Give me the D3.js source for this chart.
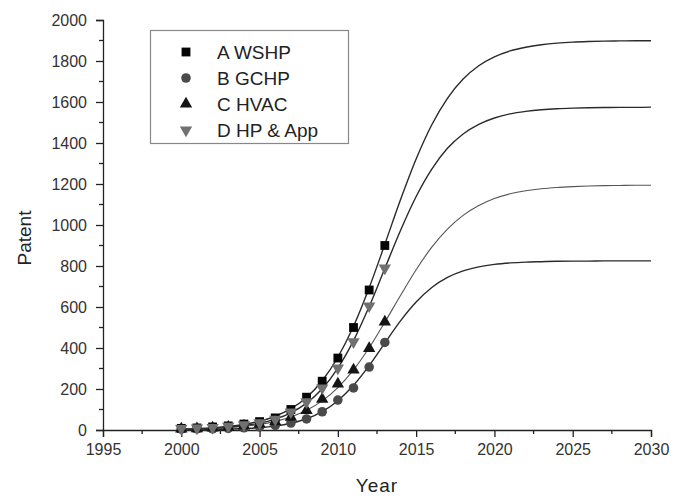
<!DOCTYPE html>
<html lang="en">
<head>
  <meta charset="UTF-8">
  <title>Patent growth</title>
  <script src="https://d3js.org/d3.v7.min.js"></script>
  <style>
    body { margin: 0; background: #fff; }
    svg { display: block; font-family: "Liberation Sans", Arial, sans-serif; }
    .tick text { fill: #333; font-size: 16px; }
    .axis path, .axis line { stroke: #222; stroke-width: 1.3; }
  </style>
</head>
<body>
  <svg width="682" height="496"></svg>
  <script>
    // observed patent counts (markers), 2000-2013
    const obsYears = d3.range(2000, 2014);
    const obsA = [8, 10, 15, 20, 29, 41, 59, 100, 160, 238, 351, 500, 683, 900];
    const obsB = [4, 5, 6, 8, 11, 15, 22, 34, 54, 89, 146, 205, 307, 427];
    const obsC = [5, 7, 10, 14, 20, 28, 40, 63, 96, 150, 225, 293, 398, 527];
    const obsD = [7, 9, 12, 18, 25, 35, 52, 88, 137, 205, 302, 430, 605, 790];

    // fitted curves, 2000-2030
    const fitYears = d3.range(2000, 2031);
    const fitA = [4, 7, 11, 17, 27, 43, 67, 104, 159, 240, 355, 506, 694, 906, 1123, 1322,
                  1489, 1618, 1712, 1777, 1820, 1849, 1867, 1879, 1887, 1892, 1895, 1897, 1898, 1899, 1899];
    const fitB = [1, 1, 2, 4, 7, 11, 19, 33, 55, 90, 143, 218, 314, 424, 532, 624,
                  695, 744, 776, 796, 808, 815, 819, 821, 823, 824, 824, 825, 825, 825, 825];
    const fitC = [3, 5, 7, 11, 18, 27, 42, 63, 96, 142, 207, 293, 401, 526, 656, 782,
                  892, 980, 1047, 1095, 1129, 1152, 1167, 1177, 1183, 1187, 1190, 1192, 1193, 1194, 1194];
    const fitD = [3, 5, 8, 13, 21, 33, 53, 84, 131, 201, 302, 436, 602, 788, 973, 1139,
                  1273, 1374, 1444, 1491, 1522, 1542, 1554, 1562, 1567, 1570, 1572, 1573, 1574, 1574, 1575];

    const seriesNames = ["A WSHP", "B GCHP", "C HVAC", "D HP & App"];
    const xTicks = [1995, 2000, 2005, 2010, 2015, 2020, 2025, 2030];
    const yTicks = [0, 200, 400, 600, 800, 1000, 1200, 1400, 1600, 1800, 2000];

    const series = [
      { name: seriesNames[0], obs: obsA, fit: fitA, shape: d3.symbolSquare, size: 78, fill: "#050505", line: "#2a2a2a", lw: 1.4 },
      { name: seriesNames[1], obs: obsB, fit: fitB, shape: d3.symbolCircle, size: 72, fill: "#4a4a4a", line: "#2a2a2a", lw: 1.4 },
      { name: seriesNames[2], obs: obsC, fit: fitC, shape: d3.symbolTriangle, size: 66, fill: "#151515", line: "#555", lw: 1.1 },
      { name: seriesNames[3], obs: obsD, fit: fitD, shape: d3.symbolTriangle, size: 66, fill: "#707070", line: "#2a2a2a", lw: 1.4, flip: true }
    ];

    const svg = d3.select("svg");
    const x = d3.scaleLinear().domain([1995, 2030]).range([103, 651]);
    const y = d3.scaleLinear().domain([0, 2000]).range([430, 20]);

    // minor ticks
    svg.append("g").selectAll("line")
      .data(d3.range(1997.5, 2030, 5))
      .join("line")
      .attr("x1", d => x(d)).attr("x2", d => x(d))
      .attr("y1", 430).attr("y2", 434)
      .attr("stroke", "#222").attr("stroke-width", 1.3);
    svg.append("g").selectAll("line")
      .data(d3.range(100, 2000, 200))
      .join("line")
      .attr("x1", 99).attr("x2", 103)
      .attr("y1", d => y(d)).attr("y2", d => y(d))
      .attr("stroke", "#222").attr("stroke-width", 1.3);

    svg.append("g").attr("class", "axis")
      .attr("transform", "translate(0,430)")
      .call(d3.axisBottom(x).tickValues(xTicks).tickFormat(d3.format("d")).tickSizeOuter(0).tickSize(7).tickPadding(7));
    svg.append("g").attr("class", "axis")
      .attr("transform", "translate(103,0)")
      .call(d3.axisLeft(y).tickValues(yTicks).tickFormat(d3.format("d")).tickSizeOuter(0).tickSize(7).tickPadding(9));

    svg.append("text")
      .attr("x", 377).attr("y", 492)
      .attr("text-anchor", "middle")
      .attr("font-size", 19).attr("fill", "#222")
      .attr("letter-spacing", 1)
      .text("Year");
    svg.append("text")
      .attr("transform", "translate(31,238) rotate(-90)")
      .attr("text-anchor", "middle")
      .attr("font-size", 19).attr("fill", "#222")
      .text("Patent");

    const line = d3.line()
      .x((d, i) => x(fitYears[i]))
      .y(d => y(d))
      .curve(d3.curveMonotoneX);

    svg.append("g").selectAll("path")
      .data(series)
      .join("path")
      .attr("d", s => line(s.fit))
      .attr("fill", "none")
      .attr("stroke", s => s.line)
      .attr("stroke-width", s => s.lw);

    series.forEach(s => {
      const sym = d3.symbol().type(s.shape).size(s.size);
      svg.append("g").selectAll("path")
        .data(s.obs)
        .join("path")
        .attr("d", sym)
        .attr("fill", s.fill)
        .attr("transform", (d, i) => `translate(${x(obsYears[i])},${y(d)})` + (s.flip ? " rotate(180)" : ""));
    });

    // legend
    const legend = svg.append("g");
    legend.append("rect")
      .attr("x", 150.5).attr("y", 30.5)
      .attr("width", 198).attr("height", 113)
      .attr("fill", "#fff").attr("stroke", "#888").attr("stroke-width", 1.2);
    series.forEach((s, i) => {
      const ly = 52 + i * 26;
      legend.append("path")
        .attr("d", d3.symbol().type(s.shape).size(s.size)())
        .attr("fill", s.fill)
        .attr("transform", `translate(186,${ly})` + (s.flip ? " rotate(180)" : ""));
      legend.append("text")
        .attr("x", 217).attr("y", ly + 7)
        .attr("font-size", 19).attr("fill", "#222")
        .text(s.name);
    });
  </script>
</body>
</html>
